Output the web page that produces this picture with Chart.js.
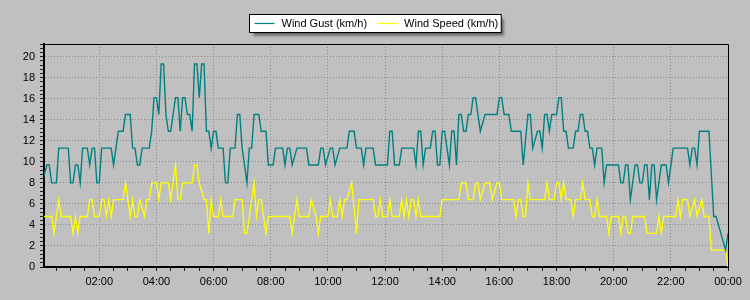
<!DOCTYPE html>
<html>
<head>
<meta charset="utf-8">
<script src="https://cdn.jsdelivr.net/npm/chart.js@4.4.0/dist/chart.umd.min.js"></script>
<style>
  html, body { margin: 0; padding: 0; background: #c0c0c0; }
  #wrap { width: 750px; height: 300px; }
</style>
</head>
<body>
<div id="wrap"><canvas id="grafico"></canvas></div>
<script>
// minutes after midnight (5 min samples, only the turning points of each line)
const gustTimes = [0, 10, 15, 20, 30, 35, 55, 60, 65, 70, 75, 80, 85, 95, 100, 105, 110, 115, 120, 125, 145, 150, 155, 160, 170, 175, 185, 190, 195, 200, 205, 210, 225, 230, 235, 240, 245, 250, 255, 260, 265, 270, 275, 280, 285, 290, 295, 300, 305, 310, 315, 320, 325, 330, 335, 340, 345, 350, 355, 360, 365, 370, 380, 385, 390, 395, 405, 410, 415, 420, 430, 435, 440, 445, 455, 460, 470, 475, 485, 490, 505, 510, 515, 520, 525, 535, 555, 560, 580, 585, 590, 595, 605, 610, 615, 625, 640, 645, 655, 660, 670, 675, 680, 695, 700, 725, 730, 735, 740, 750, 755, 780, 785, 790, 795, 800, 805, 815, 820, 825, 830, 835, 840, 845, 855, 860, 865, 870, 875, 880, 885, 890, 895, 900, 905, 910, 920, 930, 955, 960, 965, 970, 980, 985, 1005, 1010, 1020, 1025, 1030, 1040, 1045, 1050, 1055, 1060, 1065, 1070, 1080, 1085, 1090, 1095, 1100, 1105, 1115, 1120, 1125, 1130, 1135, 1140, 1145, 1150, 1155, 1160, 1165, 1175, 1180, 1185, 1210, 1215, 1220, 1225, 1230, 1235, 1245, 1250, 1255, 1260, 1265, 1270, 1275, 1280, 1285, 1290, 1300, 1310, 1315, 1325, 1355, 1360, 1365, 1370, 1375, 1380, 1400, 1410, 1415, 1435, 1440];
const gustValues = [8.0, 9.7, 9.7, 8.0, 8.0, 11.3, 11.3, 8.0, 8.0, 9.7, 9.7, 8.0, 11.3, 11.3, 9.7, 11.3, 11.3, 8.0, 8.0, 11.3, 11.3, 9.7, 11.3, 12.9, 12.9, 14.5, 14.5, 11.3, 11.3, 9.7, 9.7, 11.3, 11.3, 12.9, 16.1, 16.1, 14.5, 19.3, 19.3, 14.5, 12.9, 12.9, 14.5, 16.1, 16.1, 12.9, 16.1, 16.1, 14.5, 14.5, 12.9, 19.3, 19.3, 16.1, 19.3, 19.3, 12.9, 12.9, 11.3, 12.9, 12.9, 11.3, 11.3, 8.0, 8.0, 11.3, 11.3, 14.5, 14.5, 11.3, 8.0, 11.3, 11.3, 14.5, 14.5, 12.9, 12.9, 9.7, 9.7, 11.3, 11.3, 9.7, 11.3, 11.3, 9.7, 11.3, 11.3, 9.7, 9.7, 11.3, 11.3, 9.7, 11.3, 11.3, 9.7, 11.3, 11.3, 12.9, 12.9, 11.3, 11.3, 9.7, 11.3, 11.3, 9.7, 9.7, 12.9, 12.9, 9.7, 9.7, 11.3, 11.3, 9.7, 12.9, 12.9, 9.7, 11.3, 11.3, 12.9, 12.9, 9.7, 9.7, 12.9, 12.9, 9.7, 12.9, 12.9, 9.7, 14.5, 14.5, 12.9, 12.9, 14.5, 14.5, 16.1, 16.1, 12.9, 14.5, 14.5, 16.1, 16.1, 14.5, 14.5, 12.9, 12.9, 9.7, 14.5, 14.5, 11.3, 12.9, 12.9, 11.3, 14.5, 14.5, 12.9, 14.5, 14.5, 16.1, 16.1, 12.9, 12.9, 11.3, 11.3, 12.9, 12.9, 14.5, 14.5, 12.9, 12.9, 11.3, 11.3, 9.7, 11.3, 11.3, 8.0, 9.7, 9.7, 8.0, 8.0, 9.7, 9.7, 6.4, 9.7, 9.7, 8.0, 8.0, 9.7, 9.7, 6.4, 9.7, 9.7, 6.4, 9.7, 9.7, 8.0, 11.3, 11.3, 9.7, 11.3, 11.3, 9.7, 12.9, 12.9, 4.8, 4.8, 1.6, 3.2];

const speedTimes = [0, 20, 25, 35, 40, 60, 65, 70, 75, 80, 95, 100, 105, 110, 120, 125, 130, 135, 140, 145, 150, 170, 175, 185, 190, 195, 200, 205, 215, 220, 225, 230, 240, 245, 250, 265, 270, 280, 285, 290, 295, 315, 320, 325, 330, 340, 345, 350, 355, 360, 370, 375, 380, 400, 405, 420, 425, 430, 445, 450, 455, 460, 470, 475, 520, 525, 535, 540, 560, 565, 575, 580, 585, 600, 605, 610, 620, 625, 630, 635, 640, 650, 660, 665, 695, 700, 705, 710, 715, 725, 730, 735, 750, 755, 760, 765, 770, 775, 780, 785, 790, 795, 835, 840, 875, 880, 890, 895, 905, 910, 915, 920, 930, 940, 945, 955, 960, 965, 990, 995, 1000, 1005, 1010, 1015, 1020, 1025, 1055, 1060, 1065, 1075, 1080, 1085, 1090, 1095, 1100, 1110, 1115, 1120, 1130, 1135, 1140, 1150, 1155, 1160, 1165, 1170, 1185, 1190, 1195, 1210, 1215, 1220, 1225, 1230, 1235, 1240, 1265, 1270, 1290, 1295, 1300, 1305, 1330, 1335, 1340, 1345, 1355, 1360, 1370, 1375, 1385, 1390, 1400, 1405, 1435, 1440];
const speedValues = [4.8, 4.8, 3.2, 6.4, 4.8, 4.8, 3.2, 4.8, 3.2, 4.8, 4.8, 6.4, 6.4, 4.8, 4.8, 6.4, 6.4, 4.8, 6.4, 4.8, 6.4, 6.4, 8.0, 4.8, 6.4, 4.8, 4.8, 6.4, 4.8, 6.4, 6.4, 8.0, 8.0, 6.4, 8.0, 8.0, 6.4, 9.7, 6.4, 6.4, 8.0, 8.0, 9.7, 9.7, 8.0, 6.4, 6.4, 3.2, 6.4, 4.8, 4.8, 6.4, 4.8, 4.8, 6.4, 6.4, 3.2, 3.2, 8.0, 4.8, 6.4, 6.4, 3.2, 4.8, 4.8, 3.2, 6.4, 4.8, 4.8, 6.4, 4.8, 3.2, 4.8, 4.8, 6.4, 4.8, 4.8, 6.4, 4.8, 6.4, 6.4, 8.0, 3.2, 6.4, 6.4, 4.8, 4.8, 6.4, 4.8, 4.8, 6.4, 4.8, 4.8, 6.4, 4.8, 6.4, 4.8, 6.4, 6.4, 4.8, 6.4, 4.8, 4.8, 6.4, 6.4, 8.0, 8.0, 6.4, 6.4, 8.0, 8.0, 6.4, 8.0, 8.0, 6.4, 8.0, 8.0, 6.4, 6.4, 4.8, 6.4, 6.4, 4.8, 4.8, 8.0, 6.4, 6.4, 8.0, 6.4, 6.4, 8.0, 8.0, 6.4, 8.0, 6.4, 6.4, 4.8, 6.4, 6.4, 8.0, 6.4, 6.4, 4.8, 4.8, 6.4, 4.8, 4.8, 3.2, 4.8, 4.8, 3.2, 4.8, 4.8, 3.2, 3.2, 4.8, 4.8, 3.2, 3.2, 4.8, 3.2, 4.8, 4.8, 6.4, 4.8, 6.4, 6.4, 4.8, 6.4, 4.8, 6.4, 4.8, 4.8, 1.6, 1.6, 0];

const seriesLabels = ['Wind Gust (km/h)', 'Wind Speed (km/h)'];
const xTickLabels = ['02:00', '04:00', '06:00', '08:00', '10:00', '12:00', '14:00', '16:00', '18:00', '20:00', '22:00', '00:00'];
const yTickLabels = ['0', '2', '4', '6', '8', '10', '12', '14', '16', '18', '20'];

const aPuntos = (tiempos, valores) => tiempos.map((t, i) => ({ x: t, y: valores[i] }));

Chart.defaults.font.family = '"Liberation Sans", Arial, sans-serif';
Chart.defaults.font.size = 11;
Chart.defaults.color = '#000';

// marco superior/derecho y leyenda con sombra
const marcoYLeyenda = {
    id: 'marcoYLeyenda',
    afterDraw(chart) {
        const ctx = chart.ctx;
        const a = chart.chartArea;
        ctx.save();
        ctx.strokeStyle = '#000';
        ctx.lineWidth = 1;
        ctx.beginPath();
        ctx.moveTo(a.left, a.top + 0.5);
        ctx.lineTo(a.right + 0.5, a.top + 0.5);
        ctx.lineTo(a.right + 0.5, a.bottom);
        ctx.stroke();

        ctx.font = '11px "Liberation Sans", Arial, sans-serif';
        const items = chart.data.datasets.map(ds => ({
            texto: ds.label, color: ds.borderColor, w: ctx.measureText(ds.label).width
        }));
        const muestra = 20, gapTexto = 7, gapItem = 10, padIzq = 5, padDer = 3;
        let total = padIzq + padDer;
        items.forEach((it, i) => { total += muestra + gapTexto + it.w + (i ? gapItem : 0); });
        const x0 = Math.round((chart.width - total) / 2) + 0.5;
        const y0 = 14.5, h = 18;

        ctx.shadowColor = 'rgba(0,0,0,0.55)';
        ctx.shadowBlur = 3;
        ctx.shadowOffsetX = 3;
        ctx.shadowOffsetY = 3;
        ctx.fillStyle = '#fff';
        ctx.fillRect(x0, y0, total, h);
        ctx.shadowColor = 'transparent';
        ctx.strokeRect(x0, y0, total, h);

        const cy = y0 + h / 2;
        let x = x0 + padIzq;
        ctx.textBaseline = 'middle';
        ctx.textAlign = 'left';
        items.forEach((it, i) => {
            if (i) x += gapItem;
            ctx.strokeStyle = it.color;
            ctx.lineWidth = 1.2;
            ctx.beginPath();
            ctx.moveTo(x, cy);
            ctx.lineTo(x + muestra, cy);
            ctx.stroke();
            x += muestra + gapTexto;
            ctx.fillStyle = '#000';
            ctx.fillText(it.texto, x, cy + 0.5);
            x += it.w;
        });
        ctx.restore();
    }
};

const esMayorX = v => v % 120 === 0;
const esMayorY = v => Math.round(v * 10) % 20 === 0;

new Chart(document.getElementById('grafico'), {
    type: 'line',
    data: {
        datasets: [{
            label: seriesLabels[0],
            data: aPuntos(gustTimes, gustValues),
            borderColor: '#008080',
            borderWidth: 1.4,
            pointRadius: 0,
            tension: 0
        }, {
            label: seriesLabels[1],
            data: aPuntos(speedTimes, speedValues),
            borderColor: '#ffff00',
            borderWidth: 1.3,
            pointRadius: 0,
            tension: 0
        }]
    },
    options: {
        responsive: true,
        maintainAspectRatio: false,
        animation: false,
        layout: { padding: { top: 44, right: 22, left: 0, bottom: 0 } },
        plugins: {
            legend: { display: false },
            tooltip: { enabled: false }
        },
        scales: {
            x: {
                type: 'linear',
                min: 4,
                max: 1440,
                afterFit: s => { s.height = 33; },
                ticks: {
                    stepSize: 30,
                    includeBounds: false,
                    autoSkip: false,
                    maxRotation: 0,
                    padding: 4,
                    callback: v => esMayorX(v) ? xTickLabels[v / 120 - 1] : ''
                },
                grid: {
                    color: c => (c.tick && esMayorX(c.tick.value) && c.tick.value < 1440) ? '#8a8a8a' : 'transparent',
                    lineWidth: 1,
                    tickColor: '#222',
                    tickLength: 4
                },
                border: { color: '#000', width: 2, dash: [1, 2] }
            },
            y: {
                min: 0,
                max: 21.2,
                afterFit: s => { s.width = 44; },
                ticks: {
                    stepSize: 0.4,
                    includeBounds: false,
                    autoSkip: false,
                    padding: 5,
                    callback: v => esMayorY(v) ? yTickLabels[Math.round(v / 2)] : ''
                },
                grid: {
                    color: c => (c.tick && esMayorY(c.tick.value) && c.tick.value > 0) ? '#8a8a8a' : 'transparent',
                    lineWidth: 1,
                    tickColor: '#222',
                    tickLength: 4
                },
                border: { color: '#000', width: 2, dash: [1, 2] }
            }
        }
    },
    plugins: [marcoYLeyenda]
});
</script>
</body>
</html>
